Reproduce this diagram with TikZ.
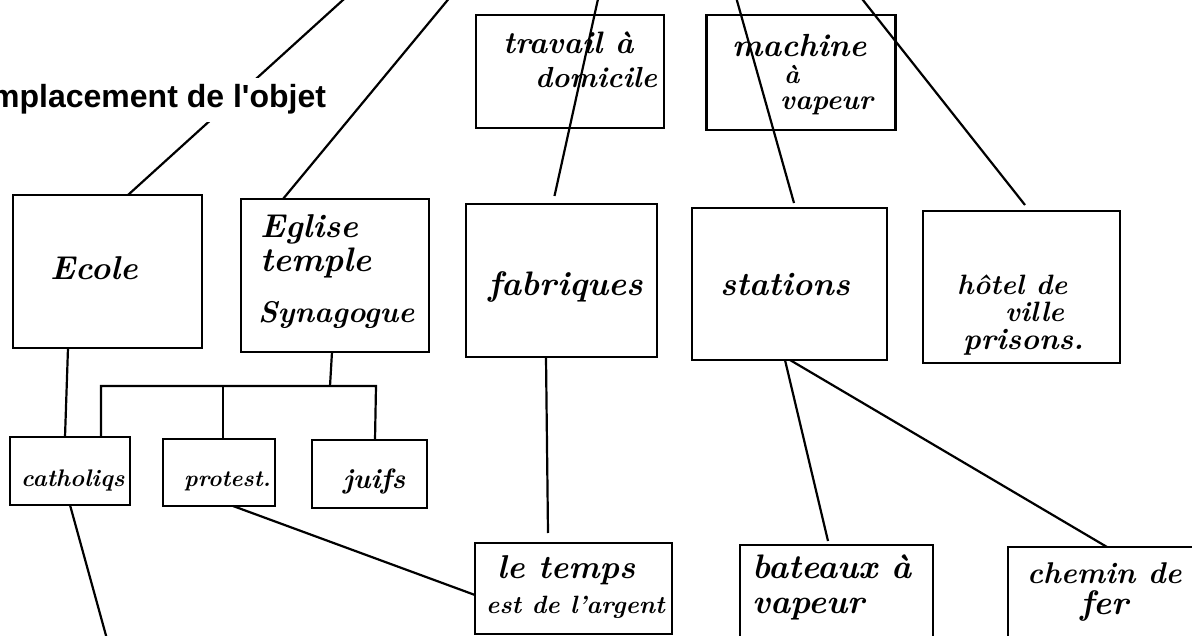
\documentclass[tikz,border=0pt]{standalone}
\usepackage{fontspec}
\newfontfamily\titlefont{Liberation Sans}
\begin{document}
\begin{tikzpicture}[x=1pt,y=-1pt,
  box/.style={draw, line width=2.8pt, rectangle, inner sep=0pt, outer sep=0pt},
  link/.style={line width=2.2pt},
  hand/.style={font=\bfseries\itshape\fontsize{#1}{#1}\selectfont, inner sep=0pt, anchor=base west},
  heading/.style={font=\titlefont\bfseries\fontsize{32}{32}\selectfont, fill=white,
                  inner xsep=2pt, inner ysep=7pt, anchor=base west}]
\useasboundingbox (0,0) rectangle (1192,636);
\clip (0,0) rectangle (1192,636);

% upper row
\node[box, minimum width=188pt, minimum height=113pt] (travail) at (570,71.5) {};
\node[box, minimum width=189pt, minimum height=115pt] (machine) at (801,72.5) {};

% middle row
\node[box, minimum width=189pt, minimum height=153pt] (ecole)     at (107.5,271.5) {};
\node[box, minimum width=188pt, minimum height=153pt] (eglise)    at (335,275.5) {};
\node[box, minimum width=191pt, minimum height=153pt] (fabriques) at (561.5,280.5) {};
\node[box, minimum width=195pt, minimum height=152pt] (stations)  at (789.5,284) {};
\node[box, minimum width=197pt, minimum height=152pt] (hotel)     at (1021.5,287) {};

% religions
\node[box, minimum width=120pt, minimum height=68pt] (cath)  at (70,471) {};
\node[box, minimum width=112pt, minimum height=67pt] (prot)  at (219,472.5) {};
\node[box, minimum width=115pt, minimum height=68pt] (juifs) at (369.5,474) {};

% lower row
\node[box, minimum width=197pt, minimum height=91pt]  (temps)   at (573.5,588.5) {};
\node[box, minimum width=193pt, minimum height=115pt] (bateaux) at (836.5,602.5) {};
\node[box, minimum width=192pt, minimum height=113pt] (chemin)  at (1104,603.5) {};

% texts
\node[hand=31] (t-trav1) at (503,54) {travail à};
\node[hand=29] (t-trav2) at (535,88) {domicile};
\node[hand=32] (t-mach1) at (732,57) {machine};
\node[hand=26] (t-mach2) at (784,84) {à};
\node[hand=28] (t-mach3) at (780,110) {vapeur};
\node[hand=33] (t-ecole) at (50,280) {Ecole};
\node[hand=33] (t-egl1)  at (260,238) {Eglise};
\node[hand=34] (t-egl2)  at (260,272) {temple};
\node[hand=30] (t-egl3)  at (258,323) {Synagogue};
\node[hand=34] (t-fab)   at (488,296) {fabriques};
\node[hand=33] (t-sta)   at (720,296) {stations};
\node[hand=28] (t-hot1)  at (957,295) {hôtel de};
\node[hand=28] (t-hot2)  at (1005,322) {ville};
\node[hand=30] (t-hot3)  at (963,350) {prisons.};
\node[hand=24] (t-cath)  at (21,486) {catholiqs};
\node[hand=23] (t-prot)  at (184,486) {protest.};
\node[hand=28] (t-juifs) at (343,488) {juifs};
\node[hand=33] (t-temps1) at (497,578) {le temps};
\node[hand=25] (t-temps2) at (486,613) {est de l'argent};
\node[hand=34] (t-bat1)  at (752,578) {bateaux à};
\node[hand=34] (t-bat2)  at (752,613) {vapeur};
\node[hand=30] (t-che1)  at (1027,583) {chemin de};
\node[hand=34] (t-che2)  at (1080,614) {fer};

% free ends beyond the frame
\coordinate (topA) at (354,-10);
\coordinate (topB) at (456,-10);
\coordinate (topC) at (600,-10);
\coordinate (topD) at (734,-10);
\coordinate (topE) at (855,-10);
\coordinate (botA) at (110,650);

% links from above
\draw[link] (topA) -- ([xshift=20.5pt]ecole.north);
\draw[link] (topB) -- ([xshift=-52pt]eglise.north);
\draw[link] (topC) -- ([xshift=-7pt,yshift=8pt]fabriques.north);
\draw[link] (topD) -- ([xshift=4.5pt,yshift=5pt]stations.north);
\draw[link] (topE) -- ([xshift=3.5pt,yshift=6pt]hotel.north);

% heading over the first link
\node[heading] (heading) at (-11,108) {mplacement de l'objet};

% Ecole and the religions
\draw[link] ([xshift=-39.5pt]ecole.south) -- ([xshift=-5pt]cath.north);
\coordinate (busR) at (376,386);
\coordinate (busM) at (330,386);
\coordinate (busP) at (223,386);
\draw[link] ([xshift=-3pt]eglise.south) -- (busM);
\draw[link] ([xshift=31pt]cath.north) |- (busR) -- ([xshift=5.5pt]juifs.north);
\draw[link] (busP) -- ([xshift=4pt]prot.north);

% lower links
\draw[link] ([xshift=-15.5pt]fabriques.south) -- ([xshift=-25.5pt,yshift=10pt]temps.north);
\draw[link] ([xshift=14pt]prot.south) -- ([yshift=-6.5pt]temps.west);
\draw[link] (cath.south) -- (botA);
\draw[link] ([xshift=-4.5pt]stations.south) -- ([xshift=-8.5pt,yshift=4pt]bateaux.north);
\draw[link] ([xshift=0.5pt]stations.south) -- ([xshift=3pt]chemin.north);
\end{tikzpicture}
\end{document}
